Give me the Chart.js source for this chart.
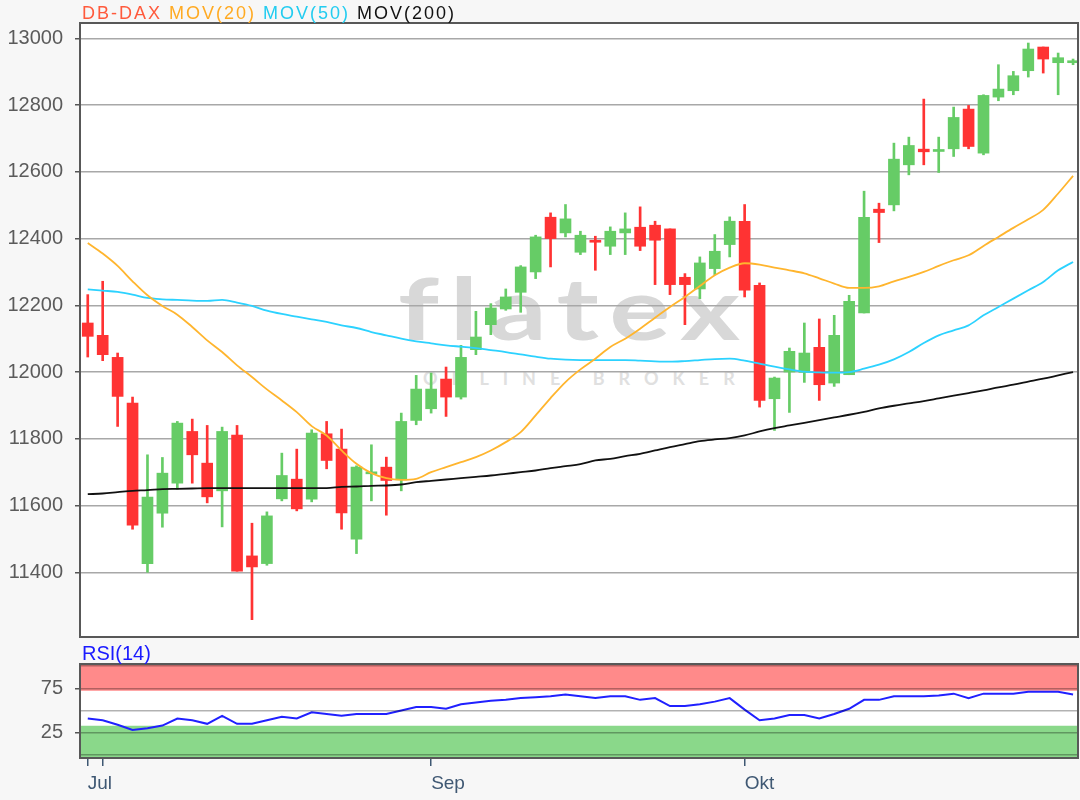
<!DOCTYPE html>
<html>
<head>
<meta charset="utf-8">
<script src="https://cdn.jsdelivr.net/npm/chart.js@4.4.1/dist/chart.umd.min.js"></script>
<style>
body{margin:0;background:#f7f7f7;}
#lienzo{position:relative;width:1080px;height:800px;overflow:hidden;font-family:"Liberation Sans",Arial,sans-serif;}
#fondo_principal{position:absolute;left:80px;top:23px;width:998px;height:614px;background:#fff;}
#fondo_rsi{position:absolute;left:80px;top:664px;width:998px;height:94px;background:#fff;}
.marca{position:absolute;white-space:nowrap;font-family:Lato,sans-serif;font-weight:700;transform-origin:0 0;}
#marca_1{left:398px;top:264px;font-size:86px;line-height:86px;letter-spacing:8px;color:#d8d8d8;transform:scaleX(1.33);}
#marca_2{left:423px;top:369px;font-size:18px;line-height:18px;letter-spacing:14px;color:#e0e0e0;}
canvas{position:absolute;left:0;}
#grafico_principal{top:0;}
#grafico_rsi{top:640px;}
#titulo{position:absolute;left:82px;top:3px;font-size:18px;line-height:20px;letter-spacing:2px;white-space:nowrap;}
#titulo_rsi{position:absolute;left:82px;top:642px;font-size:20px;line-height:22px;color:#1a1aff;white-space:nowrap;}
</style>
</head>
<body>
<div id="lienzo">
  <div id="fondo_principal"></div>
  <div id="fondo_rsi"></div>
  <div class="marca" id="marca_1">flatex</div>
  <div class="marca" id="marca_2">ONLINE BROKER</div>
  <canvas id="grafico_principal" width="1080" height="640"></canvas>
  <canvas id="grafico_rsi" width="1080" height="160"></canvas>
  <div id="titulo"><span style="color:#ff5a3c">DB-DAX</span> <span style="color:#ffaa22">MOV(20)</span> <span style="color:#22ccf0">MOV(50)</span> <span style="color:#111">MOV(200)</span></div>
  <div id="titulo_rsi">RSI(14)</div>
</div>
<script>
// velas diarias (indice 0 = primera vela)
var apertura = [12147,12110,12044,11907,11426,11577,11667,11822,11727,11644,
                11811,11449,11426,11620,11679,11619,11815,11769,11499,11695,
                11715,11677,11855,11890,11979,11925,12067,12142,12189,12239,
                12300,12464,12417,12359,12394,12377,12417,12434,12440,12429,
                12284,12249,12310,12382,12452,12260,11920,12000,11999,12074,
                11967,11992,12177,12488,12501,12621,12668,12661,12669,12788,
                12656,12824,12843,12903,12974,12927,12927];
var maximo   = [12232,12272,12057,11925,11752,11744,11852,11859,11840,11835,
                11840,11547,11581,11757,11769,11827,11852,11829,11719,11782,
                11745,11877,11990,11997,12015,12080,12182,12205,12249,12319,
                12410,12477,12502,12422,12407,12435,12477,12495,12452,12429,
                12295,12345,12412,12465,12502,12267,11985,12072,12147,12159,
                12170,12230,12542,12506,12686,12704,12818,12704,12794,12799,
                12831,12921,12901,12986,12974,12956,12938];
var minimo   = [12045,12034,11837,11529,11400,11535,11649,11667,11608,11536,
                11403,11258,11421,11614,11584,11611,11710,11529,11456,11614,
                11571,11644,11842,11877,11867,11919,12052,12112,12185,12179,
                12280,12315,12405,12352,12305,12352,12352,12364,12262,12232,
                12142,12220,12292,12345,12225,11895,11825,11879,11969,11915,
                11957,11992,12177,12388,12483,12591,12621,12598,12646,12669,
                12651,12813,12831,12884,12896,12831,12921];
var cierre   = [12107,12052,11927,11541,11625,11697,11847,11752,11626,11822,
                11403,11416,11569,11690,11590,11817,11735,11578,11715,11700,
                11675,11852,11949,11949,11925,12044,12105,12192,12225,12315,
                12405,12400,12459,12410,12389,12422,12429,12377,12395,12262,
                12262,12327,12362,12452,12245,11915,11982,12062,12057,11962,
                12110,12212,12464,12478,12638,12679,12660,12667,12763,12676,
                12829,12848,12888,12968,12938,12942,12933];

// medias moviles
var mov20  = [12387,12355,12318,12272,12230,12198,12172,12135,12095,12060,
              12020,11985,11948,11915,11880,11838,11810,11765,11725,11697,
              11682,11677,11680,11700,11715,11730,11745,11765,11790,11820,
              11870,11922,11970,12008,12040,12075,12100,12130,12163,12195,
              12225,12258,12290,12313,12326,12322,12313,12305,12296,12281,
              12265,12252,12252,12257,12272,12285,12300,12318,12335,12350,
              12378,12405,12432,12458,12486,12535,12588];
var mov50  = [12248,12244,12240,12232,12222,12218,12216,12214,12213,12216,
              12208,12198,12184,12174,12166,12158,12150,12140,12132,12120,
              12110,12100,12092,12086,12080,12076,12072,12066,12060,12053,
              12046,12040,12037,12036,12036,12036,12036,12034,12032,12031,
              12033,12036,12039,12040,12034,12025,12016,12008,12001,11999,
              11998,12000,12010,12022,12038,12060,12087,12110,12125,12140,
              12170,12195,12220,12245,12270,12305,12330];
var mov200 = [11634,11636,11640,11644,11646,11649,11650,11651,11652,11652,
              11652,11652,11652,11652,11652,11652,11652,11656,11657,11659,
              11660,11663,11670,11674,11678,11682,11686,11690,11695,11700,
              11705,11712,11718,11724,11735,11740,11748,11755,11765,11775,
              11784,11793,11798,11802,11810,11822,11832,11840,11848,11856,
              11864,11872,11881,11891,11899,11906,11913,11921,11929,11937,
              11945,11954,11962,11971,11980,11990,12000];

// RSI(14)
var rsi = [41,39,34,28,30,33,41,39,35,44,35,35,39,43,41,48,46,44,46,46,
           46,50,54,54,52,57,59,61,62,64,65,66,68,66,64,66,66,62,64,55,
           55,57,60,64,51,39,41,45,45,41,46,52,62,62,66,66,66,67,69,64,
           69,69,69,71,71,71,68];
var rsi_sobrecompra = 72.3;
var rsi_sobreventa = 32.9;

// eje de tiempo
var ticks_fecha = [0, 1, 23, 44];
var etiquetas_fecha = ['Jul', '', 'Sep', 'Okt'];

var precio_ticks = [11400, 11600, 11800, 12000, 12200, 12400, 12600, 12800, 13000];
var rsi_ticks = [0, 25, 50, 75, 100];
var rsi_etiquetas = ['', '25', '', '75', ''];

/*******************************************************/
var rojo = '#ff3333';
var verde = '#66cc66';
var x_min = -0.52;
var x_max = 66.33;

function puntos(serie) {
	return serie.map(function (v, i) { return {x: i, y: v}; });
}

var colores_vela = apertura.map(function (o, i) { return cierre[i] >= o ? verde : rojo; });
var cuerpos = apertura.map(function (o, i) { return {x: i, y: [o, cierre[i]]}; });
var mechas = minimo.map(function (l, i) { return {x: i, y: [l, maximo[i]]}; });

// borde gris alrededor del area del grafico
var borde_area = {
	id: 'borde_area',
	afterDraw: function (chart) {
		var a = chart.chartArea, c = chart.ctx;
		c.save();
		c.strokeStyle = '#585858';
		c.lineWidth = 2;
		c.strokeRect(a.left, a.top, a.right - a.left, a.bottom - a.top);
		c.restore();
	}
};

var fuente_eje = {family: '"Liberation Sans", Arial, sans-serif', size: 20};

//eje y de ancho fijo y sin relleno extra arriba/abajo
function ancho_fijo(escala) {
	escala.width = 80;
	escala.paddingTop = 0;
	escala.paddingBottom = 0;
}

var configuracion_principal = {
	type: 'bar',
	data: {
		datasets: [
			{type: 'line', label: 'MOV(20)', data: puntos(mov20), borderColor: '#ffb52e', borderWidth: 1.8,
			 pointRadius: 0, fill: false, cubicInterpolationMode: 'monotone', order: 0},
			{type: 'line', label: 'MOV(50)', data: puntos(mov50), borderColor: '#2cd2ff', borderWidth: 1.8,
			 pointRadius: 0, fill: false, cubicInterpolationMode: 'monotone', order: 0},
			{type: 'line', label: 'MOV(200)', data: puntos(mov200), borderColor: '#111111', borderWidth: 1.8,
			 pointRadius: 0, fill: false, cubicInterpolationMode: 'monotone', order: 0},
			{label: 'DB-DAX', data: cuerpos, backgroundColor: colores_vela, barThickness: 11,
			 grouped: false, minBarLength: 2, borderWidth: 0, order: 1},
			{label: 'DB-DAX mecha', data: mechas, backgroundColor: colores_vela, barThickness: 2,
			 grouped: false, borderWidth: 0, order: 2}
		]
	},
	options: {
		responsive: false,
		animation: false,
		devicePixelRatio: 1,
		layout: {padding: {top: 23, right: 2, bottom: 3, left: 0}},
		plugins: {legend: {display: false}, tooltip: {enabled: false}},
		scales: {
			x: {type: 'linear', min: x_min, max: x_max, offset: false, display: false},
			y: {
				min: 11206, max: 13046,
				afterFit: ancho_fijo,
				afterBuildTicks: function (escala) {
					escala.ticks = precio_ticks.map(function (v) { return {value: v}; });
				},
				ticks: {
					callback: function (v) { return String(v); },
					autoSkip: false, font: fuente_eje, color: '#5b5b5b', padding: 12
				},
				grid: {color: '#a8a8a8', lineWidth: 1.5, tickLength: 5, tickColor: '#555', tickWidth: 1.5},
				border: {display: false}
			}
		}
	},
	plugins: [borde_area]
};

var configuracion_rsi = {
	type: 'line',
	data: {
		datasets: [
			{label: 'RSI(14)', data: puntos(rsi), borderColor: '#2020ff', borderWidth: 2,
			 pointRadius: 0, fill: false, order: 0},
			{label: 'sobrecompra', data: [{x: -1, y: rsi_sobrecompra}, {x: 67, y: rsi_sobrecompra}],
			 borderWidth: 0, pointRadius: 0, fill: 'end', backgroundColor: '#ff8a8a', order: 2},
			{label: 'sobreventa', data: [{x: -1, y: rsi_sobreventa}, {x: 67, y: rsi_sobreventa}],
			 borderWidth: 0, pointRadius: 0, fill: 'start', backgroundColor: '#8ad88a', order: 2}
		]
	},
	options: {
		responsive: false,
		animation: false,
		devicePixelRatio: 1,
		layout: {padding: {top: 24, right: 2, bottom: 0, left: 0}},
		plugins: {legend: {display: false}, tooltip: {enabled: false}},
		scales: {
			x: {
				type: 'linear', min: x_min, max: x_max, offset: false,
				afterFit: function (escala) { escala.height = 42; },
				afterBuildTicks: function (escala) {
					escala.ticks = ticks_fecha.map(function (v) { return {value: v}; });
				},
				ticks: {
					callback: function (v) { return etiquetas_fecha[ticks_fecha.indexOf(v)]; },
					align: 'start', autoSkip: false, maxRotation: 0, padding: 6,
					font: {family: '"Liberation Sans", Arial, sans-serif', size: 19}, color: '#3f5873'
				},
				grid: {drawOnChartArea: false, tickLength: 8, color: '#3f5873', lineWidth: 1.5},
				border: {display: false}
			},
			y: {
				min: -3.5, max: 102.4,
				afterFit: ancho_fijo,
				afterBuildTicks: function (escala) {
					escala.ticks = rsi_ticks.map(function (v) { return {value: v}; });
				},
				ticks: {
					callback: function (v) { return rsi_etiquetas[rsi_ticks.indexOf(v)]; },
					autoSkip: false, font: fuente_eje, color: '#5b5b5b', padding: 12
				},
				grid: {
					z: 1, color: 'rgba(0,0,0,0.3)', lineWidth: 1.5, tickLength: 5, tickWidth: 1.5,
					tickColor: function (ctx) {
						return (ctx.tick && (ctx.tick.value === 25 || ctx.tick.value === 75)) ? '#555' : 'rgba(0,0,0,0)';
					}
				},
				border: {display: false}
			}
		}
	},
	plugins: [borde_area]
};

window.mi_grafico_principal = new Chart(document.getElementById('grafico_principal').getContext('2d'), configuracion_principal);
window.mi_grafico_rsi = new Chart(document.getElementById('grafico_rsi').getContext('2d'), configuracion_rsi);
</script>
</body>
</html>
